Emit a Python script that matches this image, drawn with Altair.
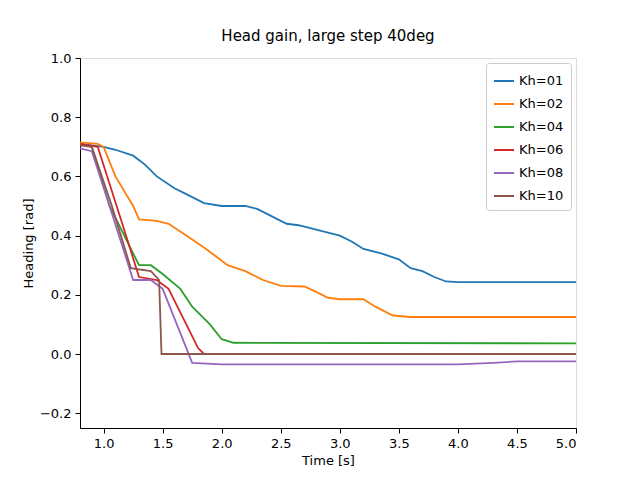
import altair as alt
import pandas as pd

labels = ["Kh=01", "Kh=02", "Kh=04", "Kh=06", "Kh=08", "Kh=10"]
colors = ["#1f77b4", "#ff7f0e", "#2ca02c", "#d62728", "#9467bd", "#8c564b"]

t01 = [0.8, 1.0, 1.1, 1.25, 1.35, 1.45, 1.6, 1.7, 1.85, 2.0, 2.2, 2.3, 2.45, 2.55, 2.65, 2.8, 3.0, 3.1, 3.2, 3.35, 3.5, 3.6, 3.7, 3.8, 3.9, 4.0, 5.0]
h01 = [0.71, 0.70, 0.69, 0.67, 0.64, 0.60, 0.56, 0.54, 0.51, 0.50, 0.50, 0.49, 0.46, 0.44, 0.435, 0.42, 0.40, 0.38, 0.355, 0.34, 0.32, 0.29, 0.28, 0.26, 0.245, 0.243, 0.243]
t02 = [0.8, 0.95, 1.0, 1.1, 1.25, 1.3, 1.45, 1.55, 1.7, 1.85, 1.95, 2.05, 2.2, 2.35, 2.5, 2.7, 2.8, 2.9, 3.0, 3.2, 3.3, 3.45, 3.6, 5.0]
h02 = [0.715, 0.71, 0.70, 0.60, 0.50, 0.455, 0.45, 0.44, 0.40, 0.36, 0.33, 0.30, 0.28, 0.25, 0.23, 0.228, 0.21, 0.19, 0.185, 0.185, 0.16, 0.13, 0.125, 0.125]
t04 = [0.8, 0.9, 1.05, 1.3, 1.4, 1.5, 1.65, 1.75, 1.9, 2.0, 2.1, 5.0]
h04 = [0.71, 0.70, 0.50, 0.30, 0.30, 0.27, 0.22, 0.16, 0.10, 0.05, 0.038, 0.036]
t06 = [0.8, 0.95, 1.15, 1.3, 1.45, 1.55, 1.7, 1.8, 1.85, 5.0]
h06 = [0.71, 0.70, 0.45, 0.26, 0.25, 0.22, 0.10, 0.02, 0.0, 0.0]
t08 = [0.8, 0.9, 1.05, 1.25, 1.4, 1.5, 1.62, 1.75, 2.0, 4.0, 4.3, 4.5, 5.0]
h08 = [0.695, 0.685, 0.50, 0.25, 0.25, 0.22, 0.10, -0.03, -0.035, -0.035, -0.03, -0.025, -0.025]
t10 = [0.8, 0.9, 1.07, 1.23, 1.4, 1.47, 1.49, 5.0]
h10 = [0.705, 0.70, 0.50, 0.29, 0.28, 0.25, 0.0, 0.0]

series = [(t01, h01), (t02, h02), (t04, h04), (t06, h06), (t08, h08), (t10, h10)]
rows = []
for lab, (ts, hs) in zip(labels, series):
    for t, h in zip(ts, hs):
        rows.append({"time": t, "heading": h, "gain": lab})
df = pd.DataFrame(rows)

axis_style = dict(grid=False, tickSize=5, labelFontSize=13, titleFontSize=13,
                  labelColor="black", titleColor="black", domainColor="black", tickColor="black",
                  titleFontWeight="normal", labelPadding=4)

chart = (
    alt.Chart(df)
    .mark_line(strokeWidth=1.8, clip=True)
    .encode(
        x=alt.X("time:Q", title="Time [s]",
                scale=alt.Scale(domain=[0.8, 5.0], nice=False, zero=False),
                axis=alt.Axis(values=[1.0, 1.5, 2.0, 2.5, 3.0, 3.5, 4.0, 4.5, 5.0], format=".1f", **axis_style)),
        y=alt.Y("heading:Q", title="Heading [rad]",
                scale=alt.Scale(domain=[-0.25, 1.0], nice=False),
                axis=alt.Axis(values=[-0.2, 0.0, 0.2, 0.4, 0.6, 0.8, 1.0], format=".1f", **axis_style)),
        color=alt.Color("gain:N", scale=alt.Scale(domain=labels, range=colors),
                        legend=alt.Legend(title=None, orient="top-right", symbolType="stroke",
                                          symbolStrokeWidth=2, symbolSize=400, labelFontSize=13,
                                          rowPadding=5, strokeColor="#cccccc", fillColor="white",
                                          padding=7, cornerRadius=3, offset=5)),
    )
    .properties(
        width=496, height=370,
        title=alt.TitleParams("Head gain, large step 40deg", fontSize=15, fontWeight="normal", offset=8),
        autosize=alt.AutoSizeParams(type="none"),
        padding={"left": 72, "top": 50, "right": 56, "bottom": 44},
    )
    .configure_view(stroke="black")
    .configure(font="DejaVu Sans")
)

chart.save("out.html", embed_options={"renderer": "svg", "actions": False})
